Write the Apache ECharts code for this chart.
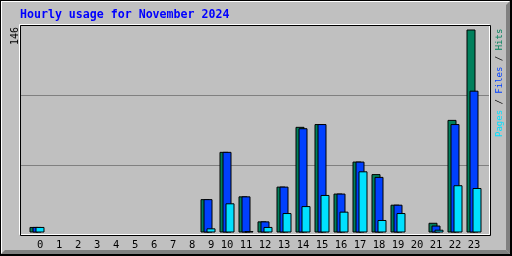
<!DOCTYPE html>
<html><head><meta charset="utf-8">
<script src="https://cdn.jsdelivr.net/npm/echarts@6/dist/echarts.min.js"></script>
<style>html,body{margin:0;padding:0;background:#c0c0c0}#c{width:512px;height:256px}</style>
</head><body><div id="c"></div>
<script>
const titleText = 'Hourly usage for November 2024';
const hours = ['0','1','2','3','4','5','6','7','8','9','10','11','12','13','14','15','16','17','18','19','20','21','22','23'];
const hits  = [4,0,0,0,0,0,0,0,0,24,58,26,8,33,76,78,28,51,42,20,0,7,81,146];
const files = [4,0,0,0,0,0,0,0,0,24,58,26,8,33,75,78,28,51,40,20,0,5,78,102];
const pages = [4,0,0,0,0,0,0,0,0,3,21,1,4,14,19,27,15,44,9,14,0,2,34,32];
const yMax = 146;
const yMaxLabel = '146';
const legendNames = ['Pages', 'Files', 'Hits'];
const hitColor = '#00805c', fileColor = '#0040ff', pageColor = '#00e0ff';
const mono = '"DejaVu Sans Mono", "Liberation Mono", monospace';

const chart = echarts.init(document.getElementById('c'), null, {renderer: 'canvas'});
const nz = a => a.map(v => v === 0 ? null : v);
function barSeries(name, data, color) {
  return {
    name, type: 'bar', xAxisIndex: 0, yAxisIndex: 0, data: nz(data),
    barWidth: 9, barGap: '-66.6667%', silent: true,
    itemStyle: {color, borderColor: '#000', borderWidth: 1},
    emphasis: {disabled: true}
  };
}
const g = [];
// outer bevel
g.push({type:'rect', shape:{x:0,y:0,width:512,height:256}, style:{fill:'#000'}, z:-10});
g.push({type:'rect', shape:{x:1,y:1,width:509,height:253}, style:{fill:'#ffffff'}, z:-9});
g.push({type:'rect', shape:{x:2,y:2,width:508,height:252}, style:{fill:'#c0c0c0'}, z:-8});
g.push({type:'polygon', shape:{points:[[506,5],[510,1],[510,254],[506,250]]}, style:{fill:'#808080'}, z:-7});
g.push({type:'polygon', shape:{points:[[1,254],[5,250],[506,250],[510,254]]}, style:{fill:'#808080'}, z:-7});
// plot frame
g.push({type:'rect', shape:{x:19.5,y:24.5,width:470,height:210}, style:{fill:null, stroke:'#ffffff', lineWidth:1}, z:-5});
g.push({type:'rect', shape:{x:20.5,y:25.5,width:470,height:210}, style:{fill:null, stroke:'#000', lineWidth:1}, z:-4});
// title
g.push({type:'text', x:20, y:15, style:{text:titleText, font:'bold 11.6px ' + mono, fill:'#0000ff', align:'left', verticalAlign:'middle'}, z:5});
// y max label
g.push({type:'text', x:15.8, y:45, rotation:Math.PI/2, style:{text:yMaxLabel, font:'10px ' + mono, fill:'#000', align:'left', verticalAlign:'middle'}, z:5});
// legend (rotated)
g.push({type:'text', x:499.8, y:137, rotation:Math.PI/2, style:{
  text:'{p|' + legendNames[0] + '}{s| / }{f|' + legendNames[1] + '}{s| / }{h|' + legendNames[2] + '}',
  font:'9px ' + mono, align:'left', verticalAlign:'middle',
  rich:{
    p:{fill:pageColor, font:'9px ' + mono},
    f:{fill:fileColor, font:'9px ' + mono},
    h:{fill:hitColor, font:'9px ' + mono},
    s:{fill:'#000', font:'9px ' + mono}
  }}, z:5});

chart.setOption({
  animation: false,
  backgroundColor: '#c0c0c0',
  grid: [
    {left: 27.5, width: 456, top: 29.5, bottom: 23.5, containLabel: false},
    {left: 21, width: 468, top: 25.4, height: 210, containLabel: false}
  ],
  xAxis: [
    {type: 'category', gridIndex: 0, data: hours, boundaryGap: true,
     axisLine: {show: false}, axisTick: {show: false}, splitLine: {show: false},
     axisLabel: {margin: 13, verticalAlign: 'middle', fontFamily: mono, fontSize: 10.5, color: '#000',
       formatter: v => v.length < 2 ? ' ' + v : v, interval: 0}},
    {type: 'value', gridIndex: 1, min: 0, max: 1, show: false}
  ],
  yAxis: [
    {type: 'value', gridIndex: 0, min: 0, max: yMax, axisLine: {show: false}, axisTick: {show: false},
     axisLabel: {show: false}, splitLine: {show: false}},
    {type: 'value', gridIndex: 1, min: 0, max: 3, interval: 1, axisLine: {show: false}, axisTick: {show: false},
     axisLabel: {show: false},
     splitLine: {show: true, showMinLine: false, showMaxLine: false, lineStyle: {color: '#808080', width: 1}}}
  ],
  series: [
    barSeries('Hits', hits, hitColor),
    barSeries('Files', files, fileColor),
    barSeries('Pages', pages, pageColor)
  ],
  graphic: g
});
</script></body></html>
